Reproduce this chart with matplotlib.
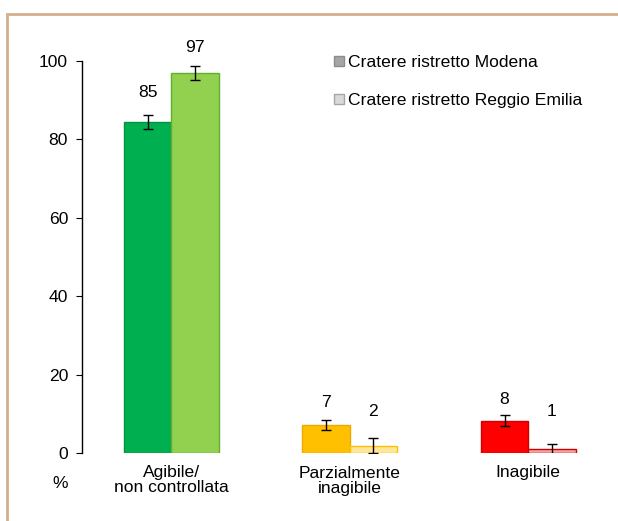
import numpy as np
import matplotlib
matplotlib.use("Agg")
from matplotlib import pyplot as plt
from matplotlib.patches import Rectangle
from matplotlib.lines import Line2D

plt.rcParams["font.family"] = ["Liberation Sans", "DejaVu Sans"]

categories = ["Agibile/\nnon controllata", "Parzialmente\ninagibile", "Inagibile"]
modena = [84.5, 7.1, 8.2]
reggio = [96.9, 1.9, 0.9]
modena_err = [1.8, 1.2, 1.4]
reggio_err = [1.8, 1.8, 1.5]
modena_labels = ["85", "7", "8"]
reggio_labels = ["97", "2", "1"]
series_names = ["Cratere ristretto Modena", "Cratere ristretto Reggio Emilia"]

modena_colors = ["#00B050", "#FFC000", "#FF0000"]
modena_edges = ["#00963F", "#F0A800", "#D00000"]
reggio_colors = ["#92D050", "#FFE699", "#F4A6A6"]
reggio_edges = ["#5FB030", "#FFC000", "#D00000"]

# label offsets above the bar tops (pixels), as Excel placed them
modena_off = [29, 23, 21]
reggio_off = [26, 34, 38]

FS = 12.6

fig = plt.figure(figsize=(6.18, 5.21), dpi=100)
ax = fig.add_axes([82 / 618, 1 - 453 / 521, 535.5 / 618, 392 / 521])

x = np.arange(len(categories))
w = 0.266
ax.bar(x - w / 2, modena, w, color=modena_colors, edgecolor=modena_edges, linewidth=1)
ax.bar(x + w / 2, reggio, w, color=reggio_colors, edgecolor=reggio_edges, linewidth=1)
ax.errorbar(x - w / 2, modena, yerr=modena_err, fmt="none", ecolor="black",
            elinewidth=1, capsize=3.5, capthick=1)
ax.errorbar(x + w / 2, reggio, yerr=reggio_err, fmt="none", ecolor="black",
            elinewidth=1, capsize=3.5, capthick=1)

for xs, vals, labs, offs in [(x - w / 2, modena, modena_labels, modena_off),
                             (x + w / 2, reggio, reggio_labels, reggio_off)]:
    for xi, v, lab, off in zip(xs, vals, labs, offs):
        ax.annotate(lab, (xi, v), xytext=(0, off * 0.72), textcoords="offset points",
                    ha="center", va="center", fontsize=FS, annotation_clip=False)

ax.set_xlim(-0.5, 2.5)
ax.set_ylim(0, 100)
ax.set_yticks(np.arange(0, 101, 20))
ax.tick_params(axis="y", labelsize=FS, length=4, direction="out", pad=6)
ax.set_xticks(x)
ax.set_xticklabels(categories, fontsize=FS, linespacing=1.0)
ax.tick_params(axis="x", length=0, pad=9)
for s in ["top", "right", "bottom"]:
    ax.spines[s].set_visible(False)
ax.spines["left"].set_linewidth(1)

fig.text(60 / 618, 1 - 483 / 521, "%", fontsize=FS, ha="center", va="center")

handles = [Line2D([], [], marker="s", linestyle="none", markersize=7,
                  markerfacecolor="#A6A6A6", markeredgecolor="#8C8C8C"),
           Line2D([], [], marker="s", linestyle="none", markersize=7,
                  markerfacecolor="#D9D9D9", markeredgecolor="#A6A6A6")]
fig.legend(handles, series_names, loc="upper left", bbox_to_anchor=(323 / 618, 1 - 48 / 521),
           frameon=False, fontsize=FS, handletextpad=0.05, handlelength=1.0,
           labelspacing=1.3, borderaxespad=0)

fig.patches.append(Rectangle((7 / 618, -0.1), 1.2, (1 - 14 / 521) + 0.1,
                             transform=fig.transFigure, fill=False,
                             edgecolor="#D3B08C", linewidth=2))

fig.savefig("out.png", dpi=100)
